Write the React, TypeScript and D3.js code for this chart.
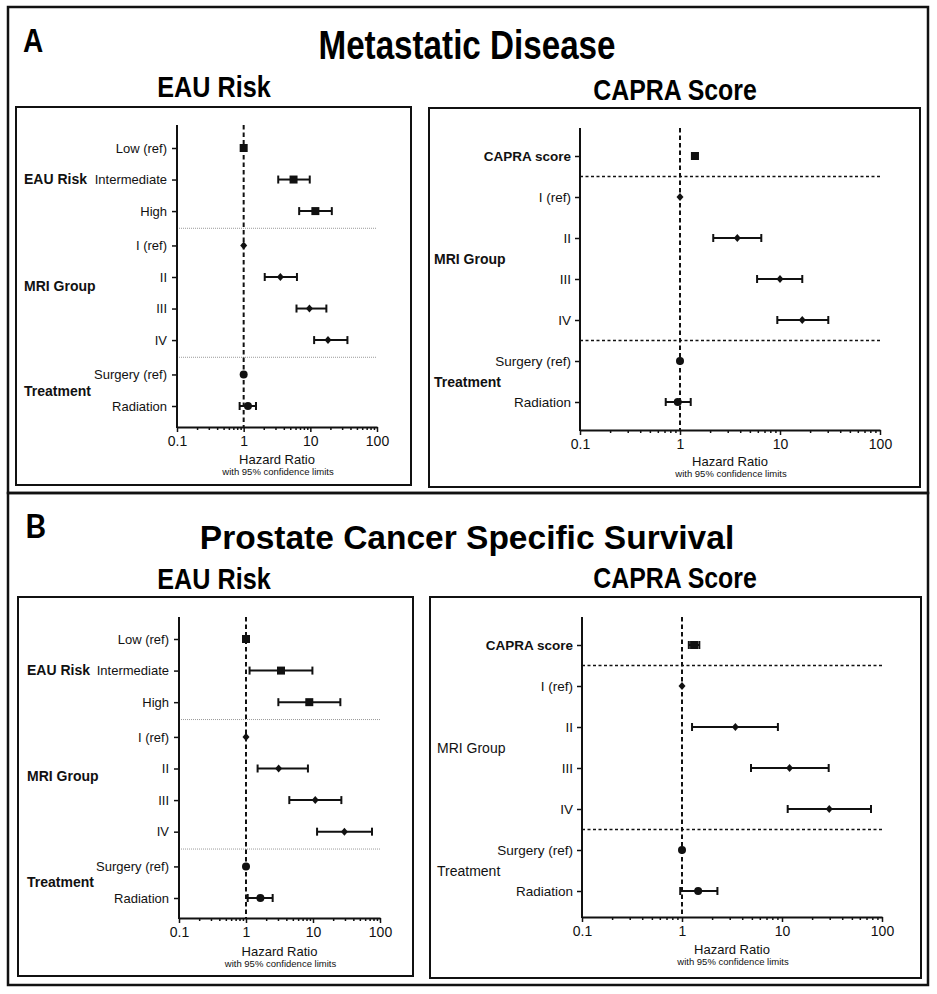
import React, { useEffect, useRef } from "react";
import * as d3 from "d3";

// row labels
const eauRows = ["Low (ref)", "Intermediate", "High"];
const capraRows = ["CAPRA score"];
const mriRows = ["I (ref)", "II", "III", "IV"];
const txRows = ["Surgery (ref)", "Radiation"];
const xTicks = [0.1, 1, 10, 100];

// Metastatic disease - EAU risk model
const metEauHR = [1, 5.6, 11.9, 1, 3.55, 9.7, 18.4, 1, 1.16];
const metEauLo = [1, 3.3, 6.8, 1, 2.07, 6.2, 11.4, 1, 0.87];
const metEauHi = [1, 9.8, 21, 1, 6.3, 17.4, 36, 1, 1.53];

// Metastatic disease - CAPRA model
const metCapraHR = [1.41, 1, 3.74, 10, 16.7, 1, 0.95];
const metCapraLo = [1.33, 1, 2.15, 5.9, 9.4, 1, 0.72];
const metCapraHi = [1.5, 1, 6.5, 16.7, 30.4, 1, 1.28];

// Prostate cancer specific survival - EAU risk model
const pcssEauHR = [1, 3.33, 8.8, 1, 3.07, 10.8, 29.4, 1, 1.64];
const pcssEauLo = [1, 1.13, 3.04, 1, 1.49, 4.43, 11.5, 1, 1.06];
const pcssEauHi = [1, 9.8, 25.6, 1, 8.4, 26.5, 76, 1, 2.5];

// Prostate cancer specific survival - CAPRA model
const pcssCapraHR = [1.32, 1, 3.42, 11.9, 29.7, 1, 1.45];
const pcssCapraLo = [1.17, 1, 1.26, 4.9, 11.4, 1, 0.96];
const pcssCapraHi = [1.49, 1, 9.1, 29.3, 77.6, 1, 2.26];

const FONT = "'Liberation Sans', Arial, sans-serif";

type Group = { name: string; rows: string[]; shape: string };

const eauGroups: Group[] = [
  { name: "EAU Risk", rows: eauRows, shape: "square" },
  { name: "MRI Group", rows: mriRows, shape: "diamond" },
  { name: "Treatment", rows: txRows, shape: "circle" },
];
const capraGroups: Group[] = [
  { name: "", rows: capraRows, shape: "square" },
  { name: "MRI Group", rows: mriRows, shape: "diamond" },
  { name: "Treatment", rows: txRows, shape: "circle" },
];

const panels = [
  {
    box: [16, 107, 395, 378], axisX: 177, axisW: 200, axisTop: 125, axisBottom: 427,
    firstY: 148, lastY: 406, gap: 0.09, labelSize: 13, groupX: 24, groupBold: true,
    groupDy: [0, -7, 1], sep: "dotted", groups: eauGroups,
    hr: metEauHR, lo: metEauLo, hi: metEauHi, titleY: 464,
  },
  {
    box: [429, 108, 491, 379], axisX: 580, axisW: 300, axisTop: 128, axisBottom: 430,
    firstY: 156, lastY: 402, gap: 0, labelSize: 13.5, groupX: 434, groupBold: true,
    groupDy: [0, 1, 1], sep: "dashed", groups: capraGroups,
    hr: metCapraHR, lo: metCapraLo, hi: metCapraHi, titleY: 466,
  },
  {
    box: [18, 597, 395, 379], axisX: 179, axisW: 201, axisTop: 617, axisBottom: 918,
    firstY: 639, lastY: 898, gap: 0.1, labelSize: 13, groupX: 27, groupBold: true,
    groupDy: [0, -8, 0], sep: "dotted", groups: eauGroups,
    hr: pcssEauHR, lo: pcssEauLo, hi: pcssEauHi, titleY: 956,
  },
  {
    box: [430, 597, 491, 381], axisX: 582, axisW: 300, axisTop: 617, axisBottom: 917,
    firstY: 645, lastY: 891, gap: 0, labelSize: 13.5, groupX: 437, groupBold: false,
    groupDy: [0, 1, 1], sep: "dashed", groups: capraGroups,
    hr: pcssCapraHR, lo: pcssCapraLo, hi: pcssCapraHi, titleY: 954,
  },
];

function drawPanel(svg: d3.Selection<SVGSVGElement, unknown, null, undefined>, p: typeof panels[0]) {
  const g = svg.append("g");
  const [bx, by, bw, bh] = p.box;
  g.append("rect").attr("x", bx).attr("y", by).attr("width", bw).attr("height", bh)
    .attr("fill", "none").attr("stroke", "#111").attr("stroke-width", 2);

  const x = d3.scaleLog().domain([0.1, 100]).range([p.axisX, p.axisX + p.axisW]);

  // row slots with a small gap between groups
  const labels: string[] = [];
  const slots: number[] = [];
  const shapes: string[] = [];
  p.groups.forEach((gr, gi) => {
    gr.rows.forEach((r) => {
      slots.push(labels.length + gi * p.gap);
      labels.push(r);
      shapes.push(gr.shape);
    });
  });
  const ySlot = d3.scaleLinear().domain([0, slots[slots.length - 1]]).range([p.firstY, p.lastY]);
  const y = d3.scaleOrdinal<string, number>().domain(labels).range(slots.map((s) => ySlot(s)));

  // separators between groups
  let idx = 0;
  p.groups.forEach((gr, gi) => {
    idx += gr.rows.length;
    if (gi < p.groups.length - 1) {
      const sy = (y(labels[idx - 1]) + y(labels[idx])) / 2;
      g.append("line").attr("x1", p.axisX).attr("x2", x(100)).attr("y1", sy).attr("y2", sy)
        .attr("stroke", p.sep === "dotted" ? "#9a9a9a" : "#111")
        .attr("stroke-width", p.sep === "dotted" ? 1 : 1.3)
        .attr("stroke-dasharray", p.sep === "dotted" ? "1,1" : "3,2.5");
    }
  });

  // reference line at HR = 1
  g.append("line").attr("x1", x(1)).attr("x2", x(1)).attr("y1", p.axisTop).attr("y2", p.axisBottom)
    .attr("stroke", "#111").attr("stroke-width", 2).attr("stroke-dasharray", "4.5,3");

  // x axis: minor ticks then major labelled ticks
  const minor: number[] = [];
  [0.1, 1, 10].forEach((d) => d3.range(2, 10).forEach((k) => minor.push(d * k)));
  const xg = g.append("g").attr("transform", `translate(0,${p.axisBottom})`);
  xg.call(d3.axisBottom(x).tickValues(minor).tickSize(3).tickFormat(() => ""));
  xg.select(".domain").remove();
  const xg2 = g.append("g").attr("transform", `translate(0,${p.axisBottom})`);
  xg2.call(d3.axisBottom(x).tickValues(xTicks).tickSize(5).tickSizeOuter(0).tickPadding(4)
    .tickFormat((d) => String(d)));
  g.selectAll(".tick line").attr("stroke", "#111").attr("stroke-width", 1.5);
  xg2.select(".domain").attr("stroke", "#111").attr("stroke-width", 2);
  xg2.selectAll("text").attr("font-family", FONT).attr("font-size", 14).attr("fill", "#111");

  // y axis
  const yg = g.append("g").attr("transform", `translate(${p.axisX},0)`);
  yg.call(d3.axisLeft(y as any).tickSize(5).tickPadding(p.labelSize > 13 ? 4 : 5));
  yg.select(".domain").remove();
  yg.selectAll(".tick line").attr("stroke", "#111").attr("stroke-width", 1.5);
  yg.selectAll("text").attr("font-family", FONT).attr("font-size", p.labelSize).attr("fill", "#111")
    .attr("font-weight", (d: any) => (d === "CAPRA score" ? "bold" : "normal"));
  g.append("line").attr("x1", p.axisX).attr("x2", p.axisX).attr("y1", p.axisTop).attr("y2", p.axisBottom + 1)
    .attr("stroke", "#111").attr("stroke-width", 2);

  // group labels
  idx = 0;
  p.groups.forEach((gr, gi) => {
    const first = y(labels[idx]);
    const last = y(labels[idx + gr.rows.length - 1]);
    idx += gr.rows.length;
    if (!gr.name) return;
    g.append("text").attr("x", p.groupX).attr("y", (first + last) / 2 + p.groupDy[gi])
      .attr("dy", "0.35em").attr("font-family", FONT).attr("font-size", 14)
      .attr("font-weight", p.groupBold ? "bold" : "normal").attr("fill", "#111").text(gr.name);
  });

  // confidence intervals
  const ci = g.append("g").attr("stroke", "#111").attr("stroke-width", 2);
  labels.forEach((l, i) => {
    if (p.lo[i] === p.hi[i]) return;
    const yy = y(l);
    ci.append("line").attr("x1", x(p.lo[i])).attr("x2", x(p.hi[i])).attr("y1", yy).attr("y2", yy);
    [p.lo[i], p.hi[i]].forEach((v) => {
      ci.append("line").attr("x1", x(v)).attr("x2", x(v)).attr("y1", yy - 4).attr("y2", yy + 4);
    });
  });

  // point estimates
  const pts = g.append("g").attr("fill", "#111");
  labels.forEach((l, i) => {
    const cx = x(p.hr[i]);
    const cy = y(l);
    if (shapes[i] === "square") {
      pts.append("rect").attr("x", cx - 4).attr("y", cy - 4).attr("width", 8).attr("height", 8);
    } else if (shapes[i] === "diamond") {
      pts.append("path").attr("d", `M${cx},${cy - 4}L${cx + 3.5},${cy}L${cx},${cy + 4}L${cx - 3.5},${cy}Z`);
    } else {
      pts.append("circle").attr("cx", cx).attr("cy", cy).attr("r", 4);
    }
  });

  // axis title
  const mid = p.axisX + p.axisW / 2;
  g.append("text").attr("x", mid).attr("y", p.titleY).attr("text-anchor", "middle")
    .attr("font-family", FONT).attr("font-size", 13).attr("fill", "#111").text("Hazard Ratio");
  g.append("text").attr("x", mid + 1).attr("y", p.titleY + 11).attr("text-anchor", "middle")
    .attr("font-family", FONT).attr("font-size", 9.5).attr("fill", "#111").text("with 95% confidence limits");
}

function App() {
  const ref = useRef<SVGSVGElement | null>(null);
  const width = 937;
  const height = 994;

  useEffect(() => {
    const svg = d3.select(ref.current);
    svg.selectAll("*").remove();
    svg.append("rect").attr("width", width).attr("height", height).attr("fill", "#fff");

    // outer frames
    svg.append("rect").attr("x", 8).attr("y", 7).attr("width", 920).attr("height", 486)
      .attr("fill", "none").attr("stroke", "#111").attr("stroke-width", 2.5);
    svg.append("rect").attr("x", 8).attr("y", 493).attr("width", 920).attr("height", 492)
      .attr("fill", "none").attr("stroke", "#111").attr("stroke-width", 2.5);

    // headings; the condensed ones are squeezed horizontally (no narrow font installed)
    const heading = (t: string, xx: number, yy: number, size: number, family: string,
      anchor = "middle", sx = 1) =>
      svg.append("text").attr("transform", `translate(${xx},${yy}) scale(${sx},1)`)
        .attr("text-anchor", anchor)
        .attr("font-family", family).attr("font-weight", "bold").attr("font-size", size)
        .attr("fill", "#000").text(t);
    heading("A", 23, 52, 33, FONT, "start", 0.85);
    heading("Metastatic Disease", 467, 59, 40, FONT, "middle", 0.83);
    heading("EAU Risk", 214, 97, 30, FONT, "middle", 0.84);
    heading("CAPRA Score", 675, 100, 30, FONT, "middle", 0.83);
    heading("B", 25, 538, 32, "Lato, 'Open Sans', sans-serif", "start");
    heading("Prostate Cancer Specific Survival", 467, 549, 33.5, FONT);
    heading("EAU Risk", 214, 589, 30, FONT, "middle", 0.84);
    heading("CAPRA Score", 675, 588, 30, FONT, "middle", 0.83);

    panels.forEach((p) => drawPanel(svg as any, p));
  }, []);

  return (
    <svg ref={ref} width={width} height={height}
      style={{ position: "absolute", left: 0, top: 0, display: "block" }} />
  );
}

export default App;
